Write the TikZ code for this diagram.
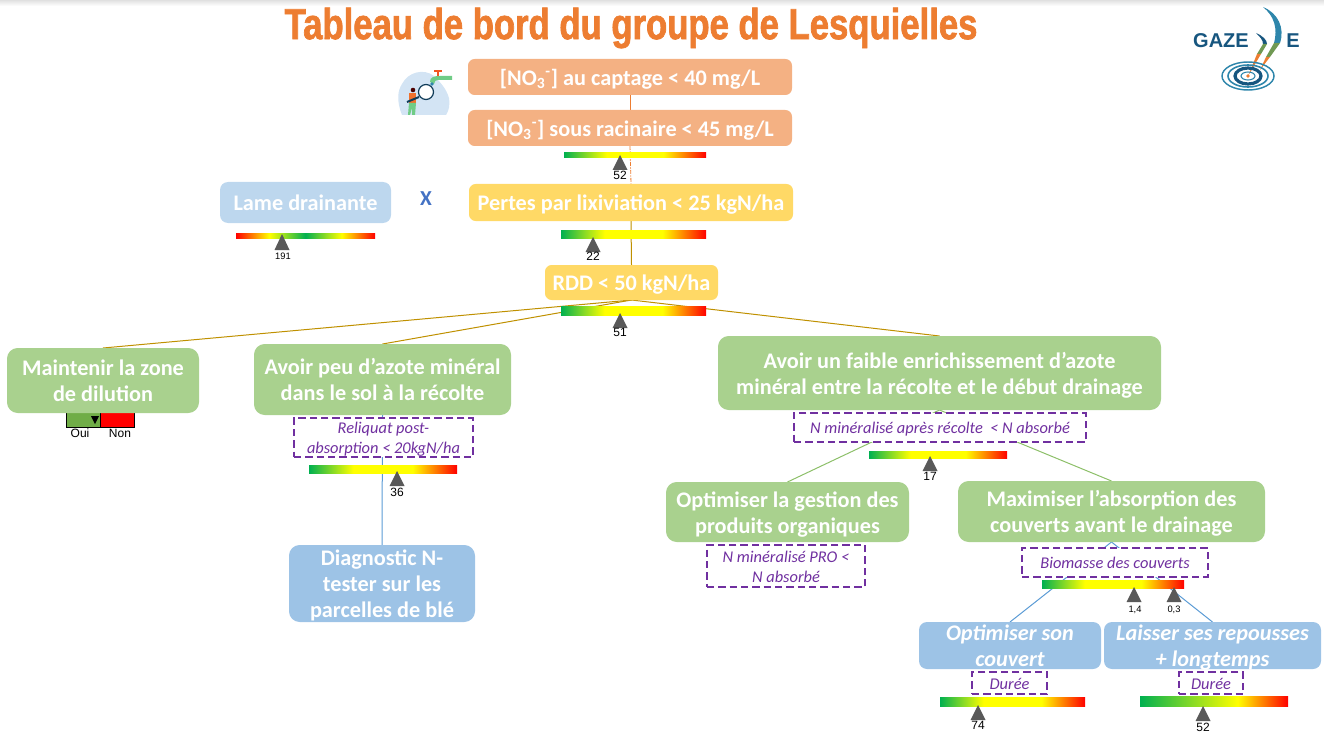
\documentclass[tikz,border=0pt]{standalone}
\usepackage{fontspec}
\setmainfont{Carlito}
\newfontface\ttlfont{Liberation Sans Bold}[FakeStretch=0.8,FakeBold=1.6]
\newfontfamily\valfont{Liberation Sans}
\usetikzlibrary{backgrounds,calc}
\definecolor{cTitle}{HTML}{ED7D31}
\definecolor{cOrange}{HTML}{F4B183}
\definecolor{cYellow}{HTML}{FFD966}
\definecolor{cGreen}{HTML}{A9D18E}
\definecolor{cPale}{HTML}{BDD7EE}
\definecolor{cBlue}{HTML}{9DC3E6}
\definecolor{cPurple}{HTML}{7030A0}
\definecolor{cGold}{HTML}{BF9000}
\definecolor{cLine}{HTML}{8CBF68}
\definecolor{cLineB}{HTML}{5B9BD5}
\definecolor{cMark}{HTML}{595959}
\definecolor{cNavy}{HTML}{17567F}
\definecolor{cTeal}{HTML}{2E86AB}
\definecolor{cOui}{HTML}{70AD47}
\definecolor{cX}{HTML}{4472C4}
\definecolor{gG}{HTML}{00B050}
\pgfdeclarehorizontalshading{gauge}{100bp}{color(0bp)=(gG);color(25bp)=(gG);color(40bp)=(yellow);color(60bp)=(yellow);color(75bp)=(red);color(100bp)=(red)}
\pgfdeclarehorizontalshading{gaugeb}{100bp}{color(0bp)=(gG);color(25bp)=(gG);color(58bp)=(yellow);color(75bp)=(red);color(100bp)=(red)}
\pgfdeclarehorizontalshading{gaugec}{100bp}{color(0bp)=(red);color(25bp)=(red);color(37bp)=(yellow);color(50bp)=(gG);color(63bp)=(yellow);color(75bp)=(red);color(100bp)=(red)}
\tikzset{
  x=0.75pt,y=-0.75pt,
  basebox/.style={rectangle,inner sep=0pt,outer sep=0pt,text=white,font=\fontsize{16.7}{19.5}\selectfont\bfseries},
  orangebox/.style={basebox,fill=cOrange,rounded corners=5pt},
  yellowbox/.style={basebox,fill=cYellow,rounded corners=5pt},
  greenbox/.style={basebox,fill=cGreen,rounded corners=8pt},
  palebox/.style={basebox,fill=cPale,rounded corners=6pt},
  bluebox/.style={basebox,fill=cBlue,rounded corners=8pt},
  blueital/.style={basebox,fill=cBlue,rounded corners=6pt,font=\fontsize{16.7}{19.5}\selectfont\bfseries\itshape},
  critbox/.style={rectangle,inner sep=0pt,outer sep=0pt,draw=cPurple,fill=white,line width=1.6pt,dash pattern=on 5.5pt off 3pt,text=cPurple,font=\fontsize{12.3}{15}\selectfont\itshape},
  gaugebar/.style={rectangle,inner sep=0pt,outer sep=0pt,shading=#1},
  val/.style={text=black,inner sep=0pt,font=\fontsize{9}{10}\selectfont\valfont},
  valsmall/.style={text=black,inner sep=0pt,font=\fontsize{7}{8}\selectfont\valfont},
  ouinon/.style={rectangle,draw=black,line width=0.75pt,inner sep=0pt,outer sep=0pt},
  goldline/.style={draw=cGold,line width=0.75pt},
  greenline/.style={draw=cLine,line width=0.75pt},
  blueline/.style={draw=cLineB,line width=0.75pt},
}
% name, style, x0, y0, x1, y1, text lines
\newcommand\bx[7]{%
  \pgfmathsetmacro\bxw{(#5-#3)*0.75}\pgfmathsetmacro\bxh{(#6-#4)*0.75}%
  \node[#2,minimum width=\bxw pt,minimum height=\bxh pt] (#1) at ({(#3+#5)/2},{(#4+#6)/2})
    {\smash{\raisebox{-0.385em}{\begin{tabular}{@{}c@{}}#7\end{tabular}}}};}
% name, style, x0, y0, x1, y1
\newcommand\gb[6]{%
  \pgfmathsetmacro\bxw{(#5-#3)*0.75}\pgfmathsetmacro\bxh{(#6-#4)*0.75}%
  \node[gaugebar=#2,minimum width=\bxw pt,minimum height=\bxh pt] (#1) at ({(#3+#5)/2},{(#4+#6)/2}) {};}
\newcommand\mk[3]{\fill[cMark] (#1-7.5,#3) -- (#1,#2) -- (#1+7.5,#3) -- cycle;}
\begin{document}
\begin{tikzpicture}
\useasboundingbox (0,0) rectangle (1324,738);
\shade[top color=black!12,bottom color=white] (0,0) rectangle (1324,6);

\node[text=cTitle,inner sep=0pt,font=\fontsize{32.5}{34}\selectfont\ttlfont] (title) at (631,28) {Tableau de bord du groupe de Lesquielles};

% Logo
\node[text=cNavy,inner sep=0pt,font=\fontsize{15}{16}\selectfont\bfseries\valfont] (logoa) at (1221,41) {GAZE};
\node[text=cNavy,inner sep=0pt,font=\fontsize{15}{16}\selectfont\bfseries\valfont] (logob) at (1293,41) {E};
\fill[cTeal] (1263,7) .. controls (1278,13) and (1285,28) .. (1280,43) -- (1274,43) .. controls (1278,28) and (1274,16) .. cycle;
\fill[cLine!80!black] (1280,43) -- (1274,43) -- (1266,57) -- (1270,57) -- cycle;
\fill[cTitle] (1270,57) -- (1266,57) -- (1260,70) -- cycle;
\fill[cNavy] (1256,33) .. controls (1263,36) and (1267,40) .. (1267,44) -- (1263,44) .. controls (1263,40) and (1260,37) .. cycle;
\fill[cLine!80!black] (1267,44) -- (1263,44) -- (1257,54) -- (1261,54) -- cycle;
\fill[cTitle] (1261,54) -- (1257,54) -- (1248,76) -- cycle;
\draw[cTeal,line width=1.1pt] (1248,76) ellipse (26 and 14);
\draw[cTeal,line width=1.2pt] (1248,76) ellipse (20 and 11);
\draw[cNavy,line width=2.4pt] (1248,76) ellipse (13 and 8);
\draw[cTeal,line width=0.8pt] (1248,76) ellipse (7 and 4);
\fill[cTitle] (1248,76) circle (1.8);

% Illustration
\fill[cBlue!45] (402,115) .. controls (396,100) and (398,90) .. (402,84) .. controls (408,72) and (424,68) .. (434,76) .. controls (440,82) and (446,88) .. (449,98) .. controls (450,106) and (449,110) .. (446,115) -- cycle;
\fill[cLine!80!cyan] (430,82) .. controls (430,77) and (434,76) .. (440,76) -- (452,76) -- (452,80) -- (438,80) .. controls (436,80) and (434,81) .. (434,84) -- cycle;
\draw[cTitle!70!red,line width=0.8pt] (438,71) -- (438,76);
\draw[cTitle!70!red,line width=0.8pt] (434,71) -- (442,71);
\fill[cTeal] (432,84) circle (1.8);
\fill[cTitle!90!red] (409,93) rectangle (416,103);
\fill[cLine!80!cyan] (409,103) -- (416,103) -- (415,115) -- (412,115) -- (412,108) -- (410,115) -- (408,115) -- cycle;
\fill[black!70!red] (413,90) circle (2.3);
\draw[cNavy!70!black,line width=1.5pt] (407,102) -- (419,97);
\draw[cNavy!70!black,line width=0.9pt,fill=white] (426,92) circle (7.5);

% Oui / Non
\node[ouinon,fill=cOui,minimum width=25.5pt,minimum height=12pt] (oui) at (83,419) {};
\node[ouinon,fill=red,minimum width=25.5pt,minimum height=12pt] (non) at (117,419) {};
\fill[black] (91,416) -- (99,416) -- (95,424) -- cycle;
\node[val] (ouit) at (80,433) {Oui};
\node[val] (nont) at (120,433) {Non};

% Boxes
\bx{capt}{orangebox}{468}{59}{792}{95}{[NO\textsubscript{3}\textsuperscript{-}] au captage < 40 mg/L}
\bx{rac}{orangebox}{468}{110}{792}{146}{[NO\textsubscript{3}\textsuperscript{-}] sous racinaire < 45 mg/L}
\bx{pert}{yellowbox}{469}{184}{793}{221}{Pertes par lixiviation < 25 kgN/ha}
\bx{lame}{palebox}{220}{182}{391}{223}{Lame drainante}
\node[text=cX,inner sep=0pt,font=\fontsize{16}{18}\selectfont\bfseries] (fois) at (426,199) {X};
\bx{rdd}{yellowbox}{545}{265}{718}{300}{RDD < 50 kgN/ha}
\bx{maint}{greenbox}{7}{348}{199}{413}{Maintenir la zone\\de dilution}
\bx{peu}{greenbox}{254}{344}{511}{415}{Avoir peu d’azote minéral\\dans le sol à la récolte}
\bx{faible}{greenbox}{718}{336}{1161}{410}{Avoir un faible enrichissement d’azote\\minéral entre la récolte et le début drainage}
\bx{orga}{greenbox}{666}{482}{909}{542}{Optimiser la gestion des\\produits organiques}
\bx{maxi}{greenbox}{958}{481}{1265}{542}{Maximiser l’absorption des\\couverts avant le drainage}
\bx{diag}{bluebox}{289}{545}{475}{622}{Diagnostic N-\\tester sur les\\parcelles de blé}
\bx{couv}{blueital}{919}{622}{1101}{669}{Optimiser son\\couvert}
\bx{rep}{blueital}{1104}{622}{1321}{669}{Laisser ses repousses\\+ longtemps}

% Criteria
\bx{crita}{critbox}{294}{418}{473}{457}{Reliquat post-\\absorption < 20kgN/ha}
\bx{critb}{critbox}{794}{413}{1086}{442}{N minéralisé après récolte \ < N absorbé}
\bx{critc}{critbox}{707}{545}{865}{587}{N minéralisé PRO <\\N absorbé}
\bx{critd}{critbox}{1022}{548}{1208}{577}{Biomasse des couverts}
\bx{crite}{critbox}{972}{672}{1047}{694}{Durée}
\bx{critf}{critbox}{1179}{672}{1243}{694}{Durée}

% Gauges
\gb{g1}{gauge}{564}{153}{706}{158}
\gb{g2}{gauge}{561}{230}{706}{238}
\gb{g3}{gaugec}{236}{233}{375}{238}
\gb{g4}{gauge}{561}{306}{706}{315}
\gb{g5}{gauge}{309}{465}{457}{473}
\gb{g6}{gauge}{869}{451}{1007}{458}
\gb{g7}{gauge}{1042}{580}{1184}{588}
\gb{g8}{gauge}{940}{697}{1085}{706}
\gb{g9}{gaugeb}{1140}{696}{1288}{706}

% Markers and values
\mk{620}{155}{170}
\node[val] (v1) at (620,175) {52};
\mk{593}{237}{252}
\node[val] (v2) at (593,256) {22};
\mk{282}{234}{250}
\node[valsmall] (v3) at (283,256) {191};
\mk{620}{313}{328}
\node[val] (v4) at (620,332) {51};
\mk{397}{471}{486}
\node[val] (v5) at (397,492) {36};
\mk{930}{456}{471}
\node[val] (v6) at (930,476) {17};
\mk{1134}{587}{602}
\node[valsmall] (v7) at (1135,610) {1,4};
\mk{1174}{587}{602}
\node[valsmall] (v8) at (1174,610) {0,3};
\mk{978}{705}{720}
\node[val] (v9) at (978,725) {74};
\mk{1203}{706}{721}
\node[val] (v10) at (1203,727) {52};

% Connectors
\begin{scope}[on background layer]
\draw[cTitle,line width=0.75pt] (capt.south) -- (rac.north);
\draw[cTitle,line width=0.6pt,dash pattern=on 3pt off 1pt on 1pt off 1pt] (rac.south) -- (pert.north);
\draw[goldline] (pert.south) -- (rdd.north);
\draw[goldline] (rdd.south) -- (maint.north);
\draw[goldline] (rdd.south) -- (peu.north);
\draw[goldline] (rdd.south) -- (faible.north);
\draw[greenline] (faible.south) -- (orga.north);
\draw[greenline] (faible.south) -- (maxi.north);
\draw[blueline] (peu.south) -- (diag.north);
\draw[blueline] (maxi.south) -- (couv.north);
\draw[blueline] (maxi.south) -- (rep.north);
\end{scope}
\end{tikzpicture}
\end{document}
